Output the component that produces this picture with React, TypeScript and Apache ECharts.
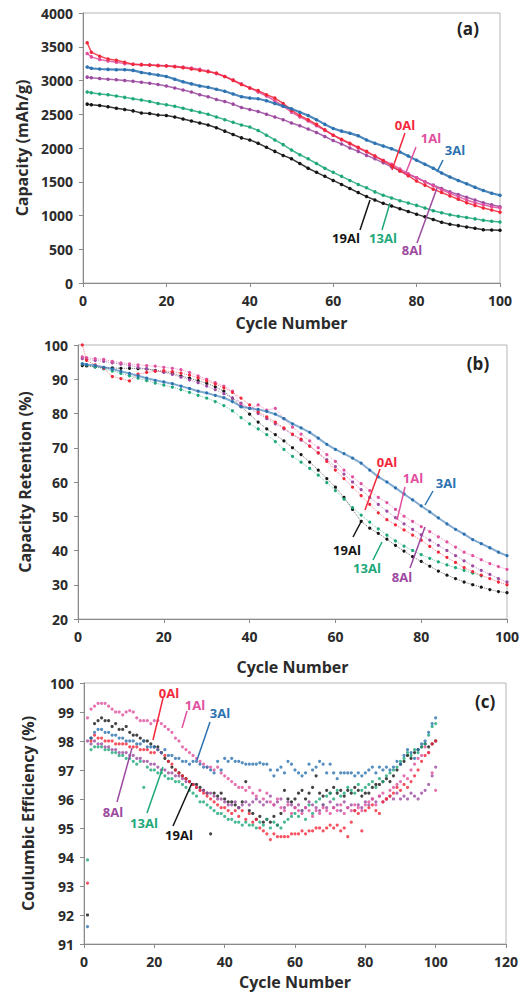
import React, { useEffect, useRef } from "react";
import * as echarts from "echarts";

// ---------- data ----------
const CYCLES_AB = [1, 2, 4, 6, 8, 10, 12, 14, 16, 18, 20, 22, 24, 26, 28, 30, 32, 34, 36, 38, 40, 42, 44, 46, 48, 50, 52, 54, 56, 58, 60, 62, 64, 66, 68, 70, 72, 74, 76, 78, 80, 82, 84, 86, 88, 90, 92, 94, 96, 98, 100];

const CAP_0AL = [3560, 3420, 3360, 3320, 3300, 3270, 3240, 3235, 3230, 3220, 3215, 3205, 3190, 3170, 3150, 3130, 3110, 3060, 3000, 2940, 2890, 2850, 2790, 2740, 2660, 2560, 2480, 2420, 2350, 2270, 2190, 2130, 2070, 2010, 1950, 1880, 1810, 1740, 1660, 1590, 1510, 1450, 1390, 1340, 1290, 1240, 1190, 1150, 1110, 1080, 1050];
const CAP_1AL = [3400, 3350, 3310, 3290, 3270, 3250, 3240, 3235, 3230, 3225, 3220, 3210, 3200, 3185, 3165, 3140, 3100, 3060, 3010, 2950, 2890, 2830, 2770, 2700, 2620, 2530, 2460, 2400, 2330, 2260, 2190, 2120, 2060, 2000, 1940, 1880, 1820, 1760, 1690, 1620, 1560, 1500, 1440, 1380, 1330, 1280, 1230, 1190, 1160, 1130, 1110];
const CAP_3AL = [3200, 3180, 3170, 3165, 3160, 3160, 3150, 3120, 3100, 3080, 3060, 3020, 2980, 2950, 2920, 2900, 2870, 2840, 2800, 2760, 2740, 2730, 2700, 2660, 2620, 2580, 2530, 2480, 2420, 2350, 2290, 2250, 2220, 2180, 2120, 2070, 2030, 1990, 1940, 1880, 1820, 1760, 1700, 1630, 1570, 1520, 1470, 1420, 1370, 1330, 1300];
const CAP_8AL = [3050, 3040, 3030, 3020, 3010, 3000, 2990, 2975, 2960, 2940, 2920, 2890, 2860, 2830, 2790, 2760, 2720, 2690, 2650, 2600, 2570, 2540, 2500, 2460, 2420, 2370, 2330, 2280, 2230, 2170, 2110, 2060, 2000, 1950, 1890, 1840, 1780, 1720, 1660, 1610, 1560, 1500, 1450, 1400, 1350, 1310, 1270, 1230, 1190, 1160, 1130];
const CAP_13AL = [2830, 2820, 2800, 2790, 2770, 2750, 2730, 2710, 2690, 2660, 2640, 2620, 2590, 2560, 2530, 2500, 2460, 2420, 2380, 2340, 2310, 2260, 2190, 2120, 2050, 1970, 1900, 1840, 1770, 1700, 1640, 1580, 1520, 1460, 1410, 1350, 1300, 1260, 1220, 1185, 1150, 1110, 1070, 1040, 1010, 990, 970, 950, 930, 915, 905];
const CAP_19AL = [2650, 2640, 2630, 2610, 2590, 2570, 2550, 2520, 2510, 2490, 2480, 2460, 2430, 2400, 2370, 2340, 2300, 2250, 2200, 2150, 2120, 2070, 2010, 1950, 1890, 1840, 1770, 1700, 1640, 1580, 1520, 1460, 1400, 1340, 1280, 1230, 1180, 1140, 1100, 1060, 1020, 980, 940, 900, 870, 850, 830, 810, 790, 785, 780];

const RET_0AL = [100, 95.5, 94.2, 93.2, 90.8, 90.2, 89.5, 91.5, 92.0, 92.3, 92.5, 92.2, 91.8, 91.2, 90.4, 89.5, 88.6, 87.5, 86.2, 84.5, 82.5, 80.5, 79.0, 77.5, 75.8, 74.0, 72.5, 70.5, 68.5, 66.0, 63.5, 61.0, 58.5, 56.0, 53.5, 51.0, 49.0, 47.5, 46.0, 44.5, 43.0, 41.2, 39.5, 38.0, 36.5, 35.0, 33.8, 32.8, 31.8, 30.8, 30.0];
const RET_1AL = [96.5, 96.3, 96.0, 95.8, 95.2, 94.8, 94.5, 94.2, 94.0, 93.8, 93.5, 93.2, 92.8, 92.0, 91.0, 90.0, 89.0, 88.0, 86.5, 82.5, 81.5, 82.5, 81.0, 81.5, 78.5, 76.0, 74.0, 72.0, 70.0, 68.0, 66.0, 63.5, 61.5, 59.5, 57.5, 55.5, 54.0, 52.0, 50.0, 48.5, 47.0, 45.5, 44.0, 42.5, 41.0, 39.5, 38.5, 37.3, 36.2, 35.3, 34.5];
const RET_3AL = [94.5, 94.3, 94.0, 93.5, 93.0, 92.3, 91.7, 91.0, 90.3, 89.7, 89.2, 88.7, 88.0, 87.3, 86.5, 86.0, 85.3, 84.6, 83.5, 82.0, 81.5, 81.2, 80.6, 79.8, 78.5, 77.0, 75.8, 74.5, 72.8, 71.0, 69.5, 68.3, 67.0, 65.5, 63.5, 61.5, 60.0, 58.3, 56.5, 54.8, 53.0, 51.3, 49.5, 47.8, 46.2, 44.8, 43.2, 42.0, 40.8, 39.5, 38.5];
const RET_8AL = [96.0, 95.8, 95.5, 95.2, 94.8, 94.4, 94.0, 93.5, 93.0, 92.5, 92.0, 91.4, 90.6, 89.8, 89.0, 88.0, 87.0, 85.8, 84.5, 83.0, 81.5, 80.0, 78.5, 77.0, 75.5, 73.8, 72.2, 70.5, 68.5, 66.5, 64.5, 62.3, 60.0, 57.8, 55.5, 53.5, 51.5, 49.6, 47.8, 46.2, 44.6, 43.0, 41.5, 40.0, 38.5, 37.0, 35.5, 34.2, 33.0, 31.8, 30.8];
const RET_13AL = [94.5, 94.2, 93.6, 93.0, 92.4, 91.7, 91.0, 90.3, 89.6, 88.9, 88.3, 87.7, 87.0, 86.2, 85.3, 84.5, 83.5, 82.3, 80.8, 78.8, 77.0, 75.5, 73.8, 71.8, 69.5, 67.5, 65.8, 64.0, 62.0, 59.8, 57.5, 55.0, 52.5, 50.3, 48.3, 46.3, 44.5, 42.8, 41.3, 40.0, 38.8, 37.7, 36.7, 35.8, 35.0, 34.2, 33.4, 32.6, null, null, null];
const RET_19AL = [94.0, 93.9, 93.6, 93.4, 93.3, 93.2, 93.2, 93.1, 93.0, 92.6, 92.2, 91.7, 91.0, 90.3, 89.6, 88.8, 87.8, 86.5, 84.5, 82.0, 79.8, 77.5, 75.5, 73.8, 72.0, 70.0, 68.0, 65.8, 63.5, 61.0, 58.5, 55.5, 52.0, 48.5, 46.5, 45.0, 43.3, 41.5, 39.8, 38.2, 36.8, 35.4, 34.0, 32.8, 31.8, 30.8, 30.0, 29.3, 28.6, 28.0, 27.7];

const CYCLES_C = [
  1, 2, 3, 4, 5, 6, 7, 8, 9, 10, 11, 12, 13, 14, 15, 16, 17, 18, 19, 20,
  21, 22, 23, 24, 25, 26, 27, 28, 29, 30, 31, 32, 33, 34, 35, 36, 37, 38, 39, 40,
  41, 42, 43, 44, 45, 46, 47, 48, 49, 50, 51, 52, 53, 54, 55, 56, 57, 58, 59, 60,
  61, 62, 63, 64, 65, 66, 67, 68, 69, 70, 71, 72, 73, 74, 75, 76, 77, 78, 79, 80,
  81, 82, 83, 84, 85, 86, 87, 88, 89, 90, 91, 92, 93, 94, 95, 96, 97, 98, 99, 100,
];

const CE_0AL = [
  93.1, 98.0, 98.2, 98.1, 98.1, 98.0, 98.0, 98.0, 97.9, 97.9,
  97.9, 97.9, 97.8, 97.8, 97.8, 97.7, 97.7, 97.7, 97.6, 97.6,
  97.7, 97.6, 97.5, 97.3, 97.2, 97.0, 96.9, 96.8, 96.7, 96.6,
  96.5, 96.4, 96.3, 96.2, 96.1, 96.0, 95.9, 95.8, 95.7, 95.7,
  95.6, 95.5, 95.6, 95.4, 95.6, 95.3, 95.5, 95.2, 95.3, 95.0,
  94.9, 94.8, 94.6, 94.8, 94.7, 94.7, 94.7, 94.7, 94.8, 94.8,
  94.8, 94.9, 94.8, 94.9, 94.9, 95.0, 95.0, 94.9, 95.0, 95.1,
  95.0, 95.1, 94.9, 95.0, 94.7, 95.2, 95.6, 95.5, 94.9, 95.6,
  95.7, 95.8, 95.6, 95.5, 95.9, 96.0, 96.1, 96.2, 96.4, 96.3,
  96.5, 96.4, 96.6, 96.8, 97.0, 97.3, 97.5, 97.6, 97.9, 98.0,
];
const CE_1AL = [
  98.8, 99.1, 99.2, 99.3, 99.3, 99.3, 99.2, 99.1, 99.0, 99.0,
  98.9, 99.0, 99.05, 99.0, 98.8, 98.7, 98.7, 98.7, 98.6, 98.7,
  98.7, 98.6, 98.5, 98.4, 98.3, 98.1, 98.0, 97.8, 97.7, 97.6,
  97.5, 97.4, 97.3, 97.2, 97.1, 97.1, 97.0, 97.1, 96.9, 96.8,
  96.7, 96.6, 96.5, 96.4, 96.4, 96.3, 96.4, 96.2, 96.1, 96.3,
  96.0, 96.2, 95.9, 95.8, 96.0, 95.7, 95.6, 95.8, 95.5, 95.7,
  95.6, 95.5, 95.7, 95.6, 95.4, 95.6, 95.5, 95.7, 95.6, 95.5,
  95.7, 95.6, 95.8, 95.5, 95.7, 95.6, 95.8, 95.7, 95.6, 95.8,
  95.9, 96.0, 95.8, 96.1, 96.2, 96.0, 96.3, 96.4, 96.5, 96.6,
  96.8, 96.7, 97.0, 97.2, 97.4, 97.5, 97.8, 97.6, 96.9, 96.3,
];
const CE_3AL = [
  91.6, 98.1, 98.3, 98.4, 98.4, 98.3, 98.3, 98.2, 98.2, 98.1,
  98.1, 98.0, 98.0, 98.0, 97.9, 97.9, 98.0, 97.8, 97.8, 97.8,
  97.7, 97.6, 97.7, 97.5, 97.5, 97.4, 97.4, 97.3, 97.3, 97.2,
  97.3, 97.3, 97.2, 97.1, 97.1, 97.0, 96.9, 97.3, 97.0, 97.4,
  97.3, 97.4, 97.3, 97.3, 97.25, 97.2, 97.2, 97.2, 97.2, 97.25,
  97.2, 97.2, 97.0, 96.8, 97.0, 97.1, 96.9, 97.3, 97.2, 97.0,
  96.9, 96.8, 96.9, 97.2, 97.0, 97.1, 97.3, 97.2, 96.9, 97.2,
  96.9, 96.7, 96.9, 96.9, 96.9, 96.9, 96.8, 96.9, 96.8, 96.9,
  97.0, 97.1, 96.9, 97.1, 97.0, 97.1, 97.0, 97.1, 97.3, 97.2,
  97.5, 97.7, 97.6, 97.4, 97.7, 97.9, 98.0, 98.3, 98.6, 98.8,
];
const CE_8AL = [
  98.0, 97.9, 98.0, 97.9, 97.9, 97.8, 97.8, 97.7, 97.7, 97.6,
  97.6, 97.6, 97.5, 97.5, 97.4, 97.4, 97.3, 97.3, 97.2, 97.2,
  97.1, 97.0, 97.0, 96.9, 96.9, 96.8, 96.8, 96.7, 96.6, 96.6,
  96.5, 96.4, 96.3, 96.3, 96.2, 96.2, 96.1, 96.0, 96.0, 95.9,
  95.8, 95.8, 95.9, 95.7, 95.8, 95.9, 95.8, 95.9, 96.0, 95.9,
  95.8, 95.9, 96.1, 95.8, 95.9, 96.0, 95.7, 95.9, 95.8, 95.7,
  95.8, 95.6, 95.7, 95.9, 95.8, 95.7, 95.6, 95.8, 95.7, 95.9,
  95.7, 95.8, 95.6, 95.9, 95.7, 95.8, 95.6, 95.8, 95.7, 95.9,
  95.8, 96.0, 95.9, 96.1, 95.9, 96.0, 96.1, 96.0, 96.2, 96.0,
  96.1, 96.0, 96.2, 96.1, 96.0, 96.2, 96.3, 96.5, 96.8, 97.1,
];
const CE_13AL = [
  93.9, 97.7, 97.8, 97.8, 97.8, 97.7, 97.7, 97.6, 97.6, 97.5,
  97.5, 97.4, 97.4, 97.3, 97.2, 97.3, 96.4, 97.1, 97.0, 97.0,
  96.9, 96.9, 96.8, 96.7, 96.7, 96.6, 96.6, 96.5, 96.4, 96.3,
  96.2, 96.1, 95.9, 95.9, 95.8, 95.7, 95.6, 95.5, 95.5, 95.4,
  95.3, 95.3, 95.2, 95.2, 95.1, 95.2, 95.1, 95.1, 95.0, 95.2,
  95.1, 95.3, 95.0, 95.2, 95.1, 95.0, 95.2, 95.3, 95.4, 95.5,
  95.4, 95.6, 95.3, 95.8, 95.5, 95.9, 96.0, 95.8, 96.1, 96.2,
  96.0, 96.3, 96.1, 96.2, 96.4, 96.3, 96.2, 96.5, 96.3, 96.4,
  96.5, 96.6, 96.4, 96.7, 96.6, 96.8, 96.9, 97.0, 97.1, 97.3,
  97.4, 97.6, 97.5, 97.7, 97.6, 97.8, 97.9, 98.2, 98.5, 98.6,
];
const CE_19AL = [
  92.0, 98.1, 98.6, 98.7, 98.8, 98.7, 98.7, 98.5, 98.6, 98.4,
  98.4, 98.5, 98.3, 98.2, 98.2, 98.1, 98.0, 98.0, 97.9, 97.8,
  97.8, 97.6, 97.4, 97.3, 97.1, 97.0, 96.9, 96.8, 96.7, 96.6,
  96.5, 96.5, 96.4, 96.3, 96.2, 94.8, 96.2, 96.1, 96.2, 96.0,
  95.9, 95.9, 95.8, 95.7, 95.9, 96.6, 95.6, 95.5, 95.3, 95.4,
  95.2, 95.3, 95.2, 95.4, 95.1, 95.5, 96.3, 96.0, 95.9, 96.0,
  96.2, 96.3, 96.0, 96.2, 96.4, 96.8, 96.2, 96.1, 96.3, 96.2,
  96.4, 96.2, 96.3, 96.1, 96.3, 96.2, 96.4, 96.3, 96.1, 96.2,
  96.2, 96.4, 96.5, 96.5, 96.6, 96.7, 96.6, 96.8, 97.0, 97.2,
  97.3, 97.5, 97.4, 97.6, 97.7, 97.8, 97.9, 97.8, 97.9, 98.0,
];

const SAMPLES = ["0Al", "1Al", "3Al", "8Al", "13Al", "19Al"];
const COLORS = ["#f2283a", "#e0509e", "#2c72b0", "#9c4aa0", "#1ea87a", "#151515"];

const CAPACITY = [CAP_0AL, CAP_1AL, CAP_3AL, CAP_8AL, CAP_13AL, CAP_19AL];
const RETENTION = [RET_0AL, RET_1AL, RET_3AL, RET_8AL, RET_13AL, RET_19AL];
const EFFICIENCY = [CE_0AL, CE_1AL, CE_3AL, CE_8AL, CE_13AL, CE_19AL];

// annotation layout: [sampleIndex, textX, textY, x1, y1, x2, y2]
const ANNOT_A = [
  [0, 405, 125, 405, 133, 392, 170],
  [1, 431, 138, 416, 147, 405, 175],
  [2, 455, 150, 443, 160, 437, 172],
  [5, 346, 238, 360, 230, 370, 200],
  [4, 383, 238, 382, 230, 390, 203],
  [3, 412, 250, 417, 243, 437, 188],
];
const ANNOT_B = [
  [0, 387, 462, 380, 469, 365, 510],
  [1, 413, 478, 405, 487, 397, 520],
  [2, 446, 483, 433, 491, 425, 505],
  [5, 347, 550, 353, 537, 362, 520],
  [4, 367, 568, 373, 560, 382, 542],
  [3, 402, 577, 410, 568, 425, 527],
];
const ANNOT_C = [
  [0, 169, 693, 163, 698, 153, 740],
  [1, 195, 705, 187, 711, 182, 728],
  [2, 220, 713, 210, 722, 197, 760],
  [3, 113, 812, 117, 802, 132, 748],
  [4, 144, 823, 147, 813, 163, 767],
  [5, 179, 835, 173, 826, 192, 783],
];

const FONT = "'Open Sans', 'Liberation Sans', sans-serif";

export default function App() {
  const ref = useRef<HTMLDivElement>(null);

  useEffect(() => {
    if (!ref.current) return;
    const chart = echarts.init(ref.current, undefined, { renderer: "svg" });

    const axisLine = { show: true, lineStyle: { color: "#8a8a8a", width: 1 } };
    const axisTick = { show: true, inside: false, length: 4, lineStyle: { color: "#8a8a8a" } };
    const axisLabel = {
      color: "#2b2b2b",
      fontWeight: "bold" as const,
      fontSize: 14,
      fontFamily: FONT,
      margin: 10,
      formatter: (v: number) => String(v),
    };
    const nameTextStyle = { color: "#2b2b2b", fontWeight: "bold" as const, fontSize: 16, fontFamily: FONT };

    const grids = [
      { left: 83, top: 13, width: 417, height: 270 },
      { left: 78, top: 345, width: 429, height: 274 },
      { left: 84, top: 683, width: 422, height: 261 },
    ].map((g) => ({ ...g, show: true, borderColor: "#b5b5b5", borderWidth: 1, containLabel: false }));

    const xAxes = [
      { gridIndex: 0, min: 0, max: 100, interval: 20, nameGap: 32 },
      { gridIndex: 1, min: 0, max: 100, interval: 20, nameGap: 40 },
      { gridIndex: 2, min: 0, max: 120, interval: 20, nameGap: 30 },
    ].map((a) => ({
      type: "value" as const,
      ...a,
      name: "Cycle Number",
      nameLocation: "middle" as const,
      nameTextStyle,
      axisLine,
      axisTick,
      axisLabel,
      splitLine: { show: false },
    }));

    const yAxes = [
      { gridIndex: 0, min: 0, max: 4000, interval: 500, name: "Capacity (mAh/g)", nameGap: 50 },
      { gridIndex: 1, min: 20, max: 100, interval: 10, name: "Capacity Retention (%)", nameGap: 41 },
      { gridIndex: 2, min: 91, max: 100, interval: 1, name: "Coulumbic Efficiency (%)", nameGap: 48 },
    ].map((a) => ({
      type: "value" as const,
      ...a,
      nameLocation: "middle" as const,
      nameTextStyle,
      axisLine,
      axisTick,
      axisLabel,
      splitLine: { show: false },
    }));

    const series: any[] = [];
    const zOrder = [5, 4, 6, 3, 2, 1];
    SAMPLES.forEach((name, i) => {
      series.push({
        name: name + " capacity",
        type: "line",
        xAxisIndex: 0,
        yAxisIndex: 0,
        data: CYCLES_AB.map((c, k) => [c, CAPACITY[i][k]]),
        symbol: "circle",
        symbolSize: 3.5,
        showSymbol: true,
        itemStyle: { color: COLORS[i] },
        lineStyle: { color: COLORS[i], width: i === 2 ? 2.2 : 1.5, opacity: 0.85 },
        z: zOrder[i],
      });
      series.push({
        name: name + " retention",
        type: "line",
        xAxisIndex: 1,
        yAxisIndex: 1,
        data: CYCLES_AB.map((c, k) => [c, RETENTION[i][k]]),
        symbol: "circle",
        symbolSize: 3.2,
        showSymbol: true,
        connectNulls: false,
        itemStyle: { color: COLORS[i] },
        lineStyle: { color: COLORS[i], width: i === 2 ? 2 : 1, opacity: 0.6, type: i === 2 ? "solid" : "dotted" },
        z: zOrder[i],
      });
      series.push({
        name: name + " efficiency",
        type: "scatter",
        xAxisIndex: 2,
        yAxisIndex: 2,
        data: CYCLES_C.map((c, k) => [c, EFFICIENCY[i][k]]),
        symbol: "circle",
        symbolSize: 3.2,
        itemStyle: { color: COLORS[i] },
        z: zOrder[i],
      });
    });

    const graphic: any[] = [];
    const addAnnots = (list: number[][]) => {
      list.forEach(([si, tx, ty, x1, y1, x2, y2]) => {
        graphic.push({
          type: "line",
          shape: { x1, y1, x2, y2 },
          style: { stroke: COLORS[si], lineWidth: 1.5 },
          z: 100,
        });
        graphic.push({
          type: "text",
          x: tx,
          y: ty,
          style: {
            text: SAMPLES[si],
            fill: COLORS[si],
            fontSize: 13,
            fontWeight: "bold",
            fontFamily: FONT,
            align: "center",
            verticalAlign: "middle",
          },
          z: 100,
        });
      });
    };
    addAnnots(ANNOT_A);
    addAnnots(ANNOT_B);
    addAnnots(ANNOT_C);
    [
      ["(a)", 468, 28],
      ["(b)", 478, 363],
      ["(c)", 485, 701],
    ].forEach(([t, x, y]) => {
      graphic.push({
        type: "text",
        x,
        y,
        style: { text: t, fill: "#222", fontSize: 17, fontWeight: "bold", fontFamily: FONT, align: "center", verticalAlign: "middle" },
        z: 100,
      });
    });

    chart.setOption({
      animation: false,
      backgroundColor: "#ffffff",
      grid: grids,
      xAxis: xAxes,
      yAxis: yAxes,
      series,
      graphic,
    });

    return () => chart.dispose();
  }, []);

  return <div ref={ref} style={{ position: "absolute", left: 0, top: 0, width: 525, height: 997 }} />;
}
